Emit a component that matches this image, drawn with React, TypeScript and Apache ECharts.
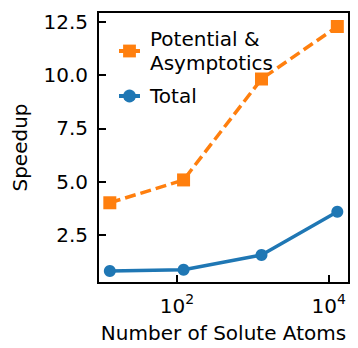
import React, { useEffect, useRef } from "react";
import * as echarts from "echarts";

const soluteAtoms = [13, 122, 1300, 13000];
const potentialSpeedup = [4.01, 5.08, 9.81, 12.27];
const totalSpeedup = [0.81, 0.87, 1.56, 3.59];
const xTickExponents = [2, 4];
const yTicks = [2.5, 5.0, 7.5, 10.0, 12.5];
const seriesNames = ["Potential &\nAsymptotics", "Total"];

const FONT = "DejaVu Sans";

export default function App() {
  const ref = useRef<HTMLDivElement>(null);
  useEffect(() => {
    if (!ref.current) return;
    const chart = echarts.init(ref.current, null, { renderer: "svg" });
    const toXY = (vals: number[]) =>
      soluteAtoms.map((n, i) => [Math.log10(n), vals[i]]);
    chart.setOption({
      animation: false,
      textStyle: { fontFamily: FONT },
      grid: {
        left: 98,
        right: 9,
        top: 12,
        bottom: 65,
        show: true,
        borderColor: "#000",
        borderWidth: 2,
        backgroundColor: "transparent",
      },
      legend: {
        left: 117,
        top: 29,
        orient: "vertical",
        padding: 0,
        itemGap: 13,
        itemWidth: 21,
        itemHeight: 16,
        lineStyle: { width: 4 },
        formatter: (name: string) =>
          name
            .split("\n")
            .map((s) => `{a|${s}}`)
            .join("\n"),
        textStyle: {
          fontFamily: FONT,
          fontSize: 20,
          color: "#000",
          padding: [0, 0, 0, 5],
          rich: {
            a: { fontFamily: FONT, fontSize: 20, color: "#000", lineHeight: 24 },
          },
        },
        data: seriesNames,
      },
      xAxis: {
        type: "value",
        min: 0.958,
        max: 4.268,
        name: "Number of Solute Atoms",
        nameLocation: "middle",
        nameGap: 40,
        nameTextStyle: { fontFamily: FONT, fontSize: 20, color: "#000" },
        axisLine: { show: false },
        axisTick: {
          show: true,
          inside: true,
          length: 8,
          customValues: xTickExponents,
          lineStyle: { color: "#000", width: 2 },
        },
        splitLine: { show: false },
        axisLabel: {
          customValues: xTickExponents,
          margin: 9,
          color: "#000",
          formatter: (v: number) => `{b|10}{s|${Math.round(v)}}`,
          rich: {
            b: { fontFamily: FONT, fontSize: 20, color: "#000", verticalAlign: "bottom", lineHeight: 24 },
            s: { fontFamily: FONT, fontSize: 14, color: "#000", verticalAlign: "top", lineHeight: 14 },
          },
        },
      },
      yAxis: {
        type: "value",
        min: 0.25,
        max: 12.95,
        name: "Speedup",
        nameLocation: "middle",
        nameGap: 68,
        nameTextStyle: { fontFamily: FONT, fontSize: 20, color: "#000" },
        axisLine: { show: false },
        axisTick: {
          show: true,
          inside: true,
          length: 8,
          customValues: yTicks,
          lineStyle: { color: "#000", width: 2 },
        },
        splitLine: { show: false },
        axisLabel: {
          customValues: yTicks,
          margin: 10,
          fontFamily: FONT,
          fontSize: 20,
          color: "#000",
          formatter: (v: number) => v.toFixed(1),
        },
      },
      series: [
        {
          name: seriesNames[0],
          type: "line",
          data: toXY(potentialSpeedup),
          symbol: "rect",
          symbolSize: 13,
          itemStyle: { color: "#ff7f0e" },
          lineStyle: { color: "#ff7f0e", width: 3.5, type: [11, 5] },
        },
        {
          name: seriesNames[1],
          type: "line",
          data: toXY(totalSpeedup),
          symbol: "circle",
          symbolSize: 12,
          itemStyle: { color: "#1f77b4" },
          lineStyle: { color: "#1f77b4", width: 3.5 },
        },
      ],
    });
    return () => chart.dispose();
  }, []);
  return <div ref={ref} style={{ width: 358, height: 348, position: "absolute", left: 0, top: 0 }} />;
}
